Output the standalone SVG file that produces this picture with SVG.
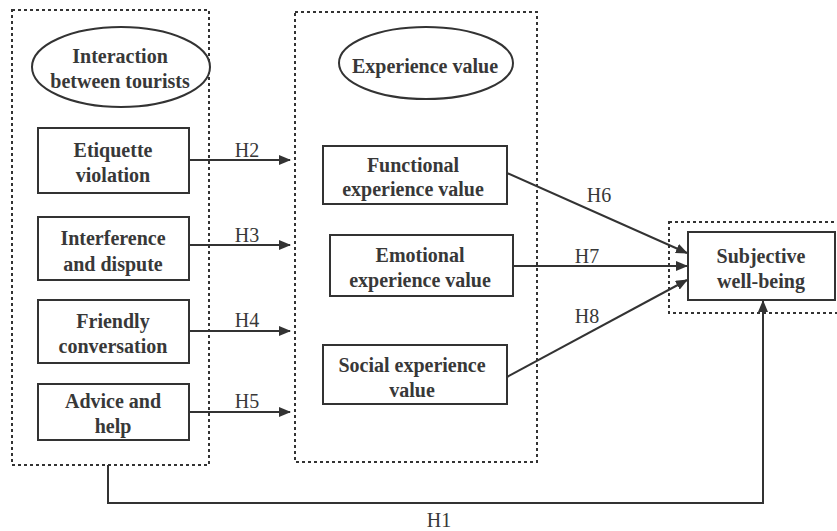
<svg xmlns="http://www.w3.org/2000/svg" width="837" height="531" viewBox="0 0 837 531" font-family="Liberation Serif, DejaVu Serif, serif">
<defs>
<marker id="arr" markerWidth="12" markerHeight="10" refX="11" refY="5" orient="auto" markerUnits="userSpaceOnUse">
<path d="M0,0 L12,5 L0,10 Z" fill="#333"/>
</marker>
<style>
.grp{fill:none;stroke:#333;stroke-width:2;stroke-dasharray:3 3}
.box{fill:#fff;stroke:#333;stroke-width:2}
.nt{font-family:"Liberation Serif", "DejaVu Serif", serif;font-weight:bold;font-size:20px;fill:#383838;text-anchor:middle}
.lb{font-family:"Liberation Serif", "DejaVu Serif", serif;font-size:20px;fill:#383838;text-anchor:middle}
.ln{fill:none;stroke:#333;stroke-width:2;marker-end:url(#arr)}
</style>
</defs>
<rect width="837" height="531" fill="#fff"/>
<g id="group-interaction">
<rect class="grp" x="12" y="10" width="197" height="455"/>
</g>
<g id="group-experience">
<rect class="grp" x="295" y="12" width="242" height="450"/>
</g>
<g id="group-subjective">
<rect class="grp" x="669" y="222" width="180" height="91"/>
</g>
<g id="connectors">
<path class="ln" d="M189,160 H290"/>
<path class="ln" d="M189,245 H290"/>
<path class="ln" d="M189,331 H290"/>
<path class="ln" d="M189,412 H290"/>
<path class="ln" d="M507,173 L687,253"/>
<path class="ln" d="M513,266 H687"/>
<path class="ln" d="M507,377 L687,280"/>
<path class="ln" d="M108,465 V503 H763 V301"/>
<text class="lb" x="247" y="157">H2</text>
<text class="lb" x="247" y="242">H3</text>
<text class="lb" x="247" y="327">H4</text>
<text class="lb" x="247" y="408">H5</text>
<text class="lb" x="599" y="202">H6</text>
<text class="lb" x="587" y="263">H7</text>
<text class="lb" x="587" y="323">H8</text>
<text class="lb" x="439" y="527">H1</text>
</g>
<g id="node-interaction">
<ellipse cx="121" cy="67" rx="89" ry="40" fill="#fff" stroke="#333" stroke-width="2"/>
<text class="nt" x="120" y="63">Interaction</text>
<text class="nt" x="120" y="88">between tourists</text>
</g>
<g id="node-etiquette">
<rect class="box" x="38" y="128" width="151" height="65"/>
<text class="nt" x="113" y="157">Etiquette</text>
<text class="nt" x="113" y="182">violation</text>
</g>
<g id="node-interference">
<rect class="box" x="38" y="217" width="151" height="63"/>
<text class="nt" x="113" y="245">Interference</text>
<text class="nt" x="113" y="271">and dispute</text>
</g>
<g id="node-friendly">
<rect class="box" x="38" y="300" width="151" height="63"/>
<text class="nt" x="113" y="328">Friendly</text>
<text class="nt" x="113" y="353">conversation</text>
</g>
<g id="node-advice">
<rect class="box" x="38" y="384" width="151" height="56"/>
<text class="nt" x="113" y="408">Advice and</text>
<text class="nt" x="113" y="433">help</text>
</g>
<g id="node-experience">
<ellipse cx="426" cy="63" rx="87" ry="36" fill="#fff" stroke="#333" stroke-width="2"/>
<text class="nt" x="425" y="73">Experience value</text>
</g>
<g id="node-functional">
<rect class="box" x="323" y="146" width="184" height="58"/>
<text class="nt" x="413" y="172">Functional</text>
<text class="nt" x="413" y="196">experience value</text>
</g>
<g id="node-emotional">
<rect class="box" x="330" y="235" width="183" height="61"/>
<text class="nt" x="420" y="262">Emotional</text>
<text class="nt" x="420" y="287">experience value</text>
</g>
<g id="node-social">
<rect class="box" x="323" y="345" width="184" height="59"/>
<text class="nt" x="412" y="372">Social experience</text>
<text class="nt" x="412" y="397">value</text>
</g>
<g id="node-subjective">
<rect class="box" x="688" y="232" width="147" height="68"/>
<text class="nt" x="761" y="263">Subjective</text>
<text class="nt" x="761" y="288">well-being</text>
</g>
</svg>
